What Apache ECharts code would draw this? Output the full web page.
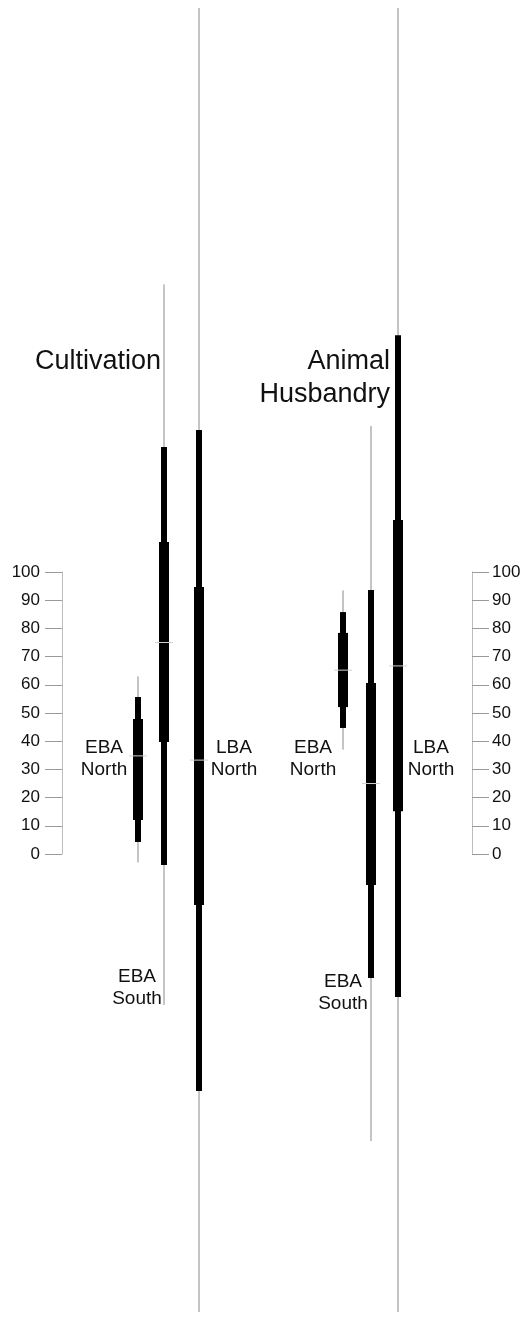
<!DOCTYPE html>
<html><head><meta charset="utf-8">
<script src="https://cdn.jsdelivr.net/npm/echarts@6/dist/echarts.min.js"></script>
<style>html,body{margin:0;padding:0;background:#fff}#c{width:530px;height:1317px}</style>
</head><body><div id="c"></div>
<script>
// ---- data ----
const groups = ['Cultivation', 'Animal Husbandry'];
const periods = ['EBA North', 'EBA South', 'LBA North'];
// outer (thin) interval
const thinLow  = [[-3, -53.5, -162.4], [37, -101.8, -162.4]];
const thinHigh = [[63, 202, 300], [93.5, 151.8, 300]];
// middle interval
const medLow   = [[4.3, -3.9, -84], [44.7, -44, -50.7]];
const medHigh  = [[55.7, 144.3, 150.4], [85.8, 93.6, 184]];
// inner (thick) interval
const thickLow = [[12.1, 39.7, -18.1], [52.1, -11, 15.2]];
const thickHigh= [[47.9, 110.6, 94.7], [78.4, 60.6, 118.4]];
// medians
const medians  = [[34.8, 75, 33.3], [65.2, 25, 66.7]];
const tickLabels = ['0','10','20','30','40','50','60','70','80','90','100'];

// ---- layout ----
const xPos = [[138, 164, 199], [343, 371, 398]];

const items = [];
groups.forEach((g, gi) => periods.forEach((p, pi) => {
  items.push({name: g + ' ' + p, value: [xPos[gi][pi], thinLow[gi][pi], thinHigh[gi][pi], medLow[gi][pi], medHigh[gi][pi], thickLow[gi][pi], thickHigh[gi][pi], medians[gi][pi]]});
}));

function renderItem(params, api) {
  const x = api.value(0);
  const c = (v) => api.coord([x, v]);
  const p1 = c(api.value(1)), p2 = c(api.value(2));
  const m1 = c(api.value(3)), m2 = c(api.value(4));
  const k1 = c(api.value(5)), k2 = c(api.value(6));
  const md = c(api.value(7));
  const px = p1[0];
  return {type: 'group', children: [
    {type: 'line', shape: {x1: px, y1: p1[1], x2: px, y2: p2[1]}, style: {stroke: '#8a8a8a', lineWidth: 1}},
    {type: 'rect', shape: {x: px - 3, y: m2[1], width: 6, height: m1[1] - m2[1]}, style: {fill: '#000'}},
    {type: 'rect', shape: {x: px - 5, y: k2[1], width: 10, height: k1[1] - k2[1]}, style: {fill: '#000'}},
    {type: 'line', shape: {x1: px - 9, y1: md[1], x2: px + 9, y2: md[1]}, style: {stroke: '#d0d0d0', lineWidth: 1}}
  ]};
}

const FONT = '"Liberation Sans", Arial, sans-serif';
function lbl(x, y, text, size) {
  return {type: 'text', x: x, y: y, style: {text: text, font: size + 'px ' + FONT, fill: '#111', textAlign: 'center', textVerticalAlign: 'middle', lineHeight: 22}};
}

function axisOf(pos, margin) {
  return {
    type: 'value', min: 0, max: 100, interval: 10, position: pos, gridIndex: 0,
    axisLine: {show: true, lineStyle: {color: '#bdbdbd', width: 1}},
    axisTick: {show: true, inside: false, length: 17, lineStyle: {color: '#9a9a9a', width: 1}},
    splitLine: {show: false},
    axisLabel: {color: '#111', fontSize: 17, fontFamily: FONT, margin: margin,
      formatter: (v) => tickLabels[Math.round(v / 10)]}
  };
}

const chart = echarts.init(document.getElementById('c'), null, {renderer: 'canvas'});
chart.setOption({
  backgroundColor: '#fff',
  animation: false,
  grid: [
    {left: 62, right: 58, top: 572, height: 282},
    {left: 0, right: 0, top: 8, height: 1304}
  ],
  xAxis: [
    {gridIndex: 0, type: 'value', show: false, min: 0, max: 1},
    {gridIndex: 1, type: 'value', show: false, min: 0, max: 530}
  ],
  yAxis: [
    axisOf('left', 22),
    axisOf('right', 20),
    {gridIndex: 1, type: 'value', show: false, min: -162.4, max: 300}
  ],
  series: [{
    type: 'custom', xAxisIndex: 1, yAxisIndex: 2, renderItem: renderItem,
    data: items
  }],
  graphic: [
    {type: 'text', x: 35, y: 362, style: {text: groups[0], font: '27px ' + FONT, fill: '#111', textAlign: 'left', textVerticalAlign: 'middle'}},
    {type: 'text', x: 390, y: 378, style: {text: 'Animal\nHusbandry', font: '27px ' + FONT, fill: '#111', textAlign: 'right', textVerticalAlign: 'middle', lineHeight: 33}},
    lbl(104, 759, 'EBA\nNorth', 19),
    lbl(234, 759, 'LBA\nNorth', 19),
    lbl(137, 988, 'EBA\nSouth', 19),
    lbl(313, 759, 'EBA\nNorth', 19),
    lbl(343, 993, 'EBA\nSouth', 19),
    lbl(431, 759, 'LBA\nNorth', 19)
  ]
});
</script></body></html>
